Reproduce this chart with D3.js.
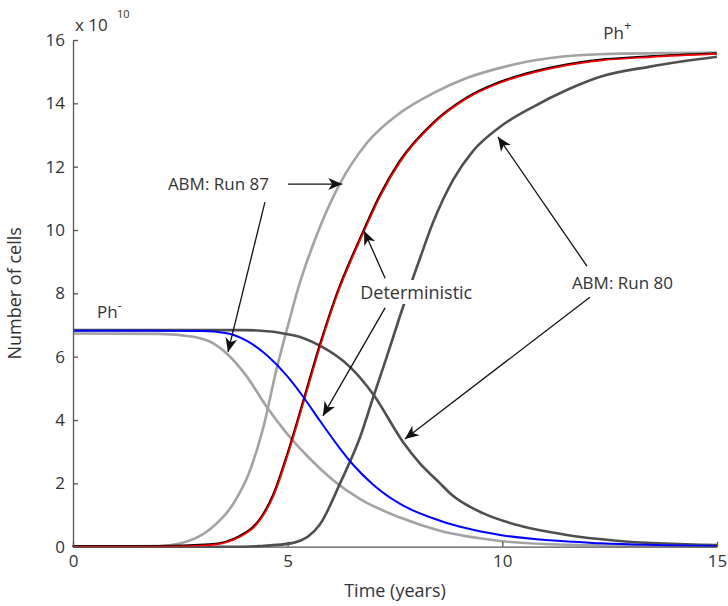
<!DOCTYPE html>
<html>
<head>
<meta charset="utf-8">
<script src="https://cdn.jsdelivr.net/npm/d3@7"></script>
<style>
  body { margin: 0; background: #fff; }
  text { font-family: "Open Sans", sans-serif; fill: #333; }
</style>
</head>
<body>
<script>
// deterministic model (time in years, cells in units of 1e10)
var detPlusT  = [0, 2, 3.2, 3.9, 4.36, 4.67, 4.98, 5.37, 5.75, 6.14, 6.76, 7.15, 7.62, 8.39, 9.17, 9.95, 10.72, 11.5, 12.28, 13.44, 15];
var detPlusV  = [0, 0, 0.05, 0.32, 0.84, 1.6, 2.8, 4.55, 6.3, 7.9, 9.9, 11.05, 12.15, 13.35, 14.15, 14.65, 14.97, 15.2, 15.35, 15.46, 15.56];
var detMinusT = [0, 3, 3.58, 4.05, 4.51, 4.98, 5.37, 5.75, 6.22, 6.53, 7.0, 7.62, 8.55, 9.17, 9.95, 11.1, 12.28, 15];
var detMinusV = [6.82, 6.81, 6.74, 6.5, 6.05, 5.4, 4.72, 3.98, 3.1, 2.58, 1.95, 1.35, 0.82, 0.58, 0.37, 0.2, 0.11, 0.02];

// ABM run 87 (light grey)
var run87PlusT  = [0, 2, 2.49, 3.19, 3.73, 4.12, 4.43, 4.74, 5.05, 5.21, 5.68, 6.22, 6.84, 7.62, 8.39, 9.17, 9.95, 10.72, 12.28, 15];
var run87PlusV  = [0, 0.02, 0.1, 0.55, 1.35, 2.4, 3.75, 5.6, 7.2, 8.0, 9.85, 11.47, 12.74, 13.7, 14.32, 14.8, 15.12, 15.35, 15.55, 15.6];
var run87MinusT = [0, 2.0, 2.8, 3.27, 3.58, 4.05, 4.51, 4.98, 5.5, 6.06, 6.69, 7.62, 8.55, 9.95, 11.5, 15];
var run87MinusV = [6.73, 6.72, 6.63, 6.42, 6.1, 5.37, 4.42, 3.58, 2.8, 2.1, 1.5, 0.92, 0.5, 0.18, 0.06, 0.01];

// ABM run 80 (dark grey)
var run80PlusT  = [0, 4, 4.36, 5.13, 5.75, 6.22, 6.69, 7.0, 7.31, 7.62, 8.08, 8.39, 8.86, 9.32, 9.95, 10.72, 11.5, 12.28, 13.44, 15];
var run80PlusV  = [0, 0, 0.02, 0.12, 0.7, 2.0, 3.47, 4.75, 6.0, 7.3, 9.1, 10.25, 11.6, 12.5, 13.26, 13.89, 14.42, 14.84, 15.16, 15.47];
var run80MinusT = [0, 4, 5.13, 5.75, 6.45, 7.0, 7.69, 8.08, 8.55, 8.78, 9.56, 10.33, 11.5, 12.66, 15];
var run80MinusV = [6.84, 6.84, 6.68, 6.35, 5.68, 4.8, 3.3, 2.63, 2.0, 1.69, 1.05, 0.69, 0.37, 0.19, 0.05];

var xTicks = [0, 5, 10, 15];
var yTicks = [0, 2, 4, 6, 8, 10, 12, 14, 16];

// annotations: text labels and arrows in data units
var labels = [
  {text: "ABM: Run 87", t: 2.21, v: 11.26},
  {text: "Deterministic", t: 6.69, v: 7.82},
  {text: "ABM: Run 80", t: 11.62, v: 8.13}
];
var arrows = [
  [5.01, 11.45, 6.27, 11.45],
  [4.47, 10.88, 3.61, 6.15],
  [7.27, 8.48, 6.78, 9.97],
  [7.27, 7.54, 5.82, 4.13],
  [11.97, 8.86, 9.9, 12.94],
  [12.04, 7.88, 7.73, 3.4]
];

var margin = {top: 40, right: 11, bottom: 59.3, left: 73},
    width = 728 - margin.left - margin.right,
    height = 606 - margin.top - margin.bottom;

var xScale = d3.scaleLinear().domain([0, 15]).range([0, width]);
var yScale = d3.scaleLinear().domain([0, 16]).range([height, 0]);

var svg = d3.select("body").append("svg")
    .attr("width", 728)
    .attr("height", 606)
    .append("g")
    .attr("transform", "translate(" + margin.left + "," + margin.top + ")");

function zip(ts, vs) {
  return ts.map(function(t, i) { return [t, vs[i]]; });
}

var line = d3.line()
    .x(function(d) { return xScale(d[0]); })
    .y(function(d) { return yScale(d[1]); })
    .curve(d3.curveMonotoneX);

// ABM runs underneath
svg.append("path").datum(zip(run87PlusT, run87PlusV))
    .attr("d", line).attr("fill", "none").attr("stroke", "#a3a3a3").attr("stroke-width", 2.6);
svg.append("path").datum(zip(run87MinusT, run87MinusV))
    .attr("d", line).attr("fill", "none").attr("stroke", "#a3a3a3").attr("stroke-width", 2.6);
svg.append("path").datum(zip(run80PlusT, run80PlusV))
    .attr("d", line).attr("fill", "none").attr("stroke", "#4f4f4f").attr("stroke-width", 2.6);
svg.append("path").datum(zip(run80MinusT, run80MinusV))
    .attr("d", line).attr("fill", "none").attr("stroke", "#4f4f4f").attr("stroke-width", 2.6);

// deterministic on top
svg.append("path").datum(zip(detPlusT, detPlusV))
    .attr("d", line).attr("fill", "none").attr("stroke", "#000").attr("stroke-width", 2)
    .attr("transform", "translate(-0.6,-0.8)");
svg.append("path").datum(zip(detPlusT, detPlusV))
    .attr("d", line).attr("fill", "none").attr("stroke", "#ff0000").attr("stroke-width", 1.7);
svg.append("path").datum(zip(detMinusT, detMinusV))
    .attr("d", line).attr("fill", "none").attr("stroke", "#0000ff").attr("stroke-width", 2);

// axes (ticks pointing inward, no box)
var xAxis = d3.axisBottom(xScale).tickValues(xTicks).tickSize(-5).tickSizeOuter(0).tickPadding(8);
var yAxis = d3.axisLeft(yScale).tickValues(yTicks).tickSize(-5).tickSizeOuter(0).tickPadding(8);

var gx = svg.append("g")
    .attr("transform", "translate(0," + height + ")")
    .call(xAxis);
var gy = svg.append("g").call(yAxis);

[gx, gy].forEach(function(g) {
  g.selectAll("path, line").attr("stroke", "#555").attr("stroke-width", 1.3);
  g.selectAll("text").style("font-size", "17px").attr("fill", "#333")
   .style("font-family", "'Open Sans', sans-serif");
});

// exponent label
var expo = svg.append("text")
    .attr("x", 2).attr("y", -9)
    .style("font-size", "17px");
expo.append("tspan").text("x 10");
expo.append("tspan").attr("x", 44).attr("y", -22).style("font-size", "11px").text("10");

// axis titles
svg.append("text")
    .attr("transform", "translate(" + (-52) + "," + (height / 2) + ") rotate(-90)")
    .attr("text-anchor", "middle")
    .style("font-size", "18px")
    .text("Number of cells");

svg.append("text")
    .attr("x", width / 2)
    .attr("y", height + 50)
    .attr("text-anchor", "middle")
    .style("font-size", "18px")
    .text("Time (years)");

// Ph labels
var phPlus = svg.append("text")
    .attr("x", xScale(12.35)).attr("y", yScale(16.03))
    .style("font-size", "17px");
phPlus.append("tspan").text("Ph");
phPlus.append("tspan").attr("dy", -9).style("font-size", "13px").text("+");

var phMinus = svg.append("text")
    .attr("x", xScale(0.56)).attr("y", yScale(7.22))
    .style("font-size", "17px");
phMinus.append("tspan").text("Ph");
phMinus.append("tspan").attr("dy", -8).style("font-size", "12px").text("-");

// annotation arrows
function arrowHead(x1, y1, x2, y2) {
  var a = Math.atan2(y2 - y1, x2 - x1),
      len = 14, half = 6, notch = 4;
  var ca = Math.cos(a), sa = Math.sin(a);
  var bx = x2 - len * ca, by = y2 - len * sa;
  var nx = x2 - (len - notch) * ca, ny = y2 - (len - notch) * sa;
  return "M" + x2 + "," + y2 +
         "L" + (bx - half * sa) + "," + (by + half * ca) +
         "L" + nx + "," + ny +
         "L" + (bx + half * sa) + "," + (by - half * ca) + "Z";
}

arrows.forEach(function(a) {
  var x1 = xScale(a[0]), y1 = yScale(a[1]), x2 = xScale(a[2]), y2 = yScale(a[3]);
  svg.append("line")
      .attr("x1", x1).attr("y1", y1).attr("x2", x2).attr("y2", y2)
      .attr("stroke", "#111").attr("stroke-width", 1.3);
  svg.append("path")
      .attr("d", arrowHead(x1, y1, x2, y2))
      .attr("fill", "#111");
});

// annotation text with white backing
labels.forEach(function(l) {
  var t = svg.append("text")
      .attr("x", xScale(l.t)).attr("y", yScale(l.v))
      .style("font-size", l.text == "Deterministic" ? "18px" : "17px")
      .text(l.text);
  var bb = t.node().getBBox();
  svg.insert("rect", function() { return t.node(); })
      .attr("x", bb.x - 2).attr("y", bb.y)
      .attr("width", bb.width + 4).attr("height", bb.height)
      .attr("fill", "#fff");
});
</script>
</body>
</html>
